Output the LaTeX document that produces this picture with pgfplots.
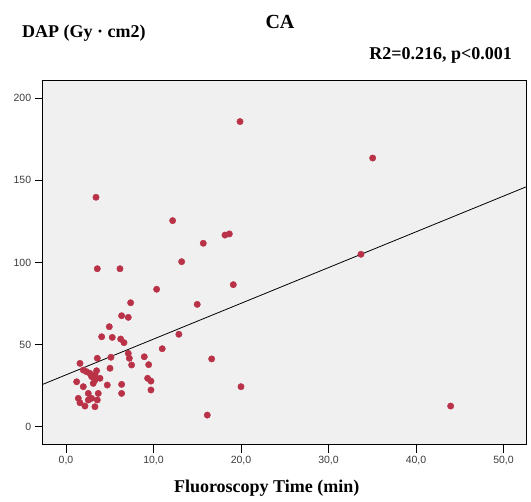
\documentclass[border=0pt]{standalone}
\usepackage{pgfplots}
\pgfplotsset{compat=1.18}
\usepackage{fontspec}
\setmainfont{Liberation Serif}
\newfontfamily\tickfont{Liberation Sans}
\definecolor{ptcol}{RGB}{185,50,72}
\definecolor{bgcol}{RGB}{240,240,240}
\definecolor{tickcol}{RGB}{60,60,60}
\begin{document}
\begin{tikzpicture}[x=1pt,y=1pt]
\path[use as bounding box] (0,0) rectangle (531,502);
\begin{axis}[
  at={(42.7pt,57pt)}, anchor=south west,
  scale only axis, width=484pt, height=364pt,
  xmin=-2.66, xmax=52.65, ymin=-11.1, ymax=210.5,
  axis background/.style={fill=bgcol},
  axis line style={black, line width=1pt},
  xtick={0,10,...,50}, ytick={0,50,...,200},
  tick align=outside, major tick length=8pt,
  tick style={black, line width=0.8pt},
  xtick pos=bottom, ytick pos=left,
  tick label style={font=\tickfont\fontsize{10.5}{12}\selectfont, text=tickcol},
  xticklabel style={/pgf/number format/.cd, fixed, fixed zerofill, precision=1, use comma, assume math mode=true},
  yticklabel style={/pgf/number format/assume math mode=true},
]
\addplot[only marks, mark=*, mark size=3.2pt, mark options={draw=ptcol, fill=ptcol}] table {
x y
3.43 139.7
12.19 125.5
15.69 111.7
13.22 100.5
3.58 96.2
6.17 96.2
19.89 185.8
35.05 163.6
18.17 116.7
18.67 117.4
33.71 105.0
19.12 86.5
16.65 41.3
20.0 24.4
16.15 7.1
43.96 12.6
10.36 83.7
15.0 74.5
12.9 56.3
7.39 75.5
6.36 67.6
7.12 66.6
4.95 60.9
4.08 54.8
5.29 54.4
6.25 53.4
6.63 51.2
11.0 47.5
5.14 42.3
7.12 44.7
7.24 41.7
7.5 37.6
8.95 42.6
9.45 37.8
5.03 35.6
3.89 29.5
9.33 29.5
9.71 27.8
9.71 22.4
4.72 25.4
6.36 25.8
6.36 20.3
1.6 38.6
3.58 41.7
1.98 34.5
2.36 33.5
2.74 32.5
2.93 30.5
3.31 31.5
3.5 34.1
1.22 27.4
1.98 24.4
3.12 26.4
3.31 28.4
2.55 20.3
3.69 20.3
1.41 17.3
1.6 14.6
2.17 12.6
2.55 16.3
2.93 17.3
3.31 12.2
3.58 16.3
};
\addplot[black, line width=0.8pt] coordinates {(-2.66,25.8) (52.65,146.2)};
\end{axis}
\node[font=\bfseries\fontsize{20}{22}\selectfont] at (280,480) {CA};
\node[font=\bfseries\fontsize{18}{20}\selectfont, anchor=west, inner sep=0pt] at (22,469) {DAP (Gy · cm2)};
\node[font=\bfseries\fontsize{18}{20}\selectfont, anchor=east, inner sep=0pt] at (512,447) {R2=0.216, p<0.001};
\node[font=\bfseries\fontsize{18}{20}\selectfont] at (266.7,14) {Fluoroscopy Time (min)};
\end{tikzpicture}
\end{document}
